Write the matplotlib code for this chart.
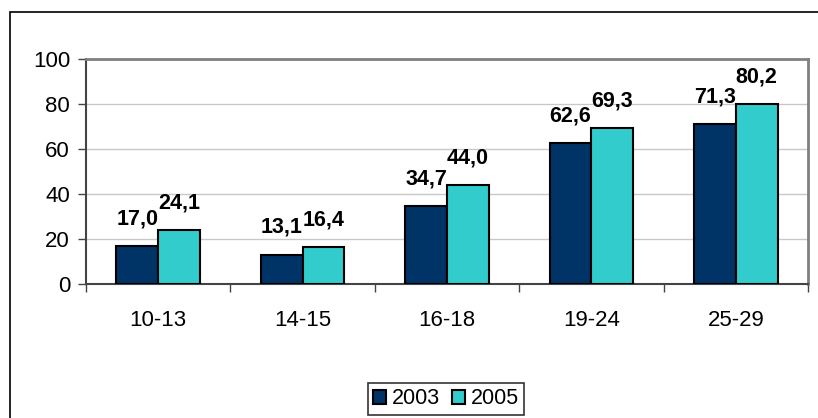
import numpy as np
import matplotlib.pyplot as plt
from matplotlib import font_manager
from matplotlib.patches import Rectangle

# Data
categories = ['10-13', '14-15', '16-18', '19-24', '25-29']
values_2003 = [17.0, 13.1, 34.7, 62.6, 71.3]
values_2005 = [24.1, 16.4, 44.0, 69.3, 80.2]
series_names = ['2003', '2005']

plt.rcParams['font.family'] = ['Liberation Sans', 'DejaVu Sans']

# value labels in the reference are narrow and tall
names = {f.name for f in font_manager.fontManager.ttflist}
if 'Liberation Sans Narrow' in names:
    label_font, label_size = ['Liberation Sans Narrow', 'DejaVu Sans'], 18
else:
    label_font, label_size = ['Liberation Sans', 'DejaVu Sans'], 15.5

fig = plt.figure(figsize=(8.18, 4.18), dpi=100)

# outer chart border (runs off right and bottom)
fig.patches.append(Rectangle((10 / 818, -0.01), 1.0, 1 - 12 / 418 + 0.01,
                             transform=fig.transFigure, fill=False,
                             edgecolor='black', linewidth=1.2))

ax = fig.add_axes([86 / 818, 1 - 284 / 418, (808 - 86) / 818, (284 - 59) / 418])

x = np.arange(len(categories))
w = 0.29
b1 = ax.bar(x - w / 2, values_2003, w, color='#003366', edgecolor='black',
            linewidth=1.5, label=series_names[0], zorder=3)
b2 = ax.bar(x + w / 2, values_2005, w, color='#33CCCC', edgecolor='black',
            linewidth=1.5, label=series_names[1], zorder=3)

def fmt(v):
    return f'{v:.1f}'.replace('.', ',')

for bars, vals in ((b1, values_2003), (b2, values_2005)):
    for bar, v in zip(bars, vals):
        ax.annotate(fmt(v), (bar.get_x() + bar.get_width() / 2, v),
                    xytext=(0, 15.5), textcoords='offset points',
                    ha='center', va='baseline', fontsize=label_size,
                    family=label_font, fontweight='bold', zorder=4)

ax.set_xlim(-0.5, len(categories) - 0.5)
ax.set_ylim(0, 100)
ax.set_yticks(np.arange(0, 101, 20))
ax.yaxis.grid(True, color='#c8c8c8', linewidth=1, zorder=0)
ax.set_axisbelow(True)

ax.set_xticks(x)
ax.set_xticklabels(categories)
ax.set_xticks(np.arange(-0.5, len(categories), 1), minor=True)
ax.tick_params(axis='x', which='major', length=0, pad=19, labelsize=16)
ax.tick_params(axis='x', which='minor', length=6, width=1, color='#444444',
               direction='out')
ax.tick_params(axis='y', length=6, width=1, color='#444444', labelsize=16,
               direction='out', pad=5.5)

for side in ('top', 'right'):
    ax.spines[side].set_color('#808080')
    ax.spines[side].set_linewidth(2)
for side in ('left', 'bottom'):
    ax.spines[side].set_color('#444444')
    ax.spines[side].set_linewidth(1.5)

leg = fig.legend(handles=[b1, b2], labels=series_names, loc='center',
                 bbox_to_anchor=(446 / 818, 1 - 399 / 418), ncol=2,
                 fontsize=15.5, frameon=True, fancybox=False, edgecolor='black',
                 handlelength=0.6, handleheight=0.6, handletextpad=0.25,
                 columnspacing=0.6, borderpad=0.25, borderaxespad=0)
leg.get_frame().set_linewidth(1.2)

fig.savefig('out.png', dpi=100, facecolor='white')
